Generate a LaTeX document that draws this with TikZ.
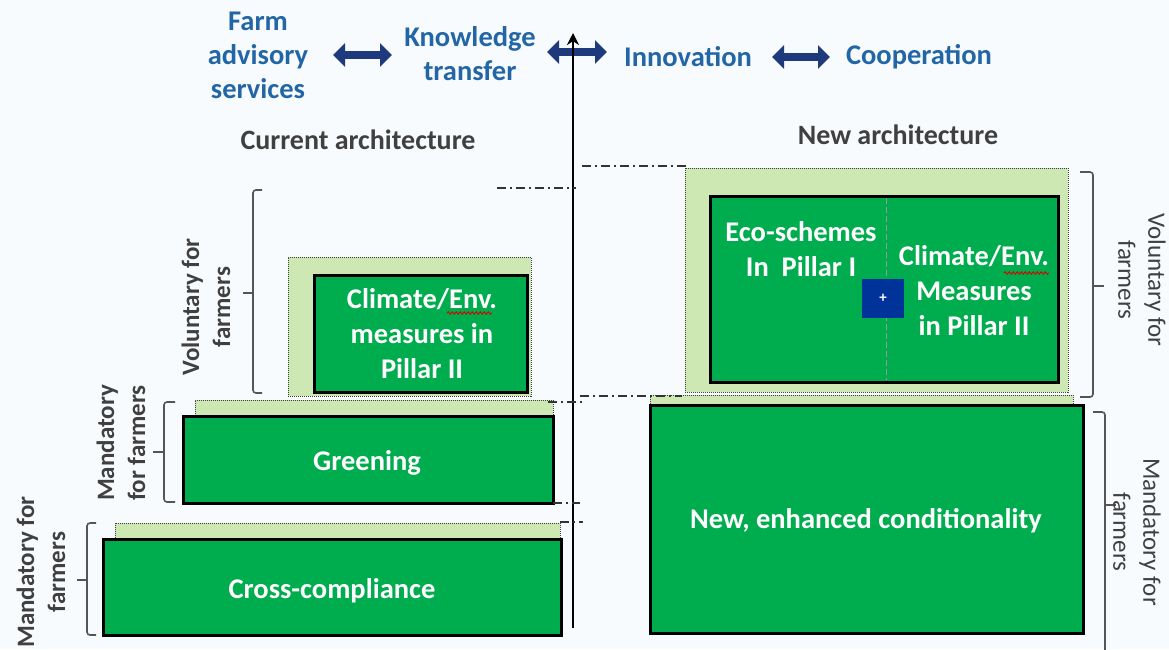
\documentclass[tikz,border=0pt]{standalone}
\usepackage{fontspec}
\setmainfont{Carlito}
\usetikzlibrary{arrows.meta,decorations.pathmorphing}
\definecolor{dkgreen}{HTML}{00AD4E}
\definecolor{ltgreen}{HTML}{CDE8B2}
\definecolor{lblblue}{HTML}{2366A6}
\definecolor{navyblue}{HTML}{1F3A7C}
\definecolor{plusblue}{HTML}{003399}
\definecolor{bggray}{HTML}{F8FBFD}
\definecolor{txtgray}{HTML}{404040}
\definecolor{bracegray}{HTML}{555555}
\begin{document}
\begin{tikzpicture}[x=1pt,y=-1pt,
  toplabel/.style={font=\fontsize{28.5}{34}\selectfont\bfseries, text=lblblue, align=center, inner sep=0},
  archlabel/.style={font=\fontsize{28}{30}\selectfont\bfseries, text=txtgray, inner sep=0},
  sidelabelb/.style={font=\fontsize{25}{31}\selectfont\bfseries, text=txtgray, align=center, inner sep=0},
  sidelabel/.style={font=\fontsize{25}{30}\selectfont, text=txtgray, align=center, inner sep=0},
  boxtext/.style={font=\fontsize{28.5}{35}\selectfont\bfseries, text=white, align=center, inner sep=0},
  lightbox/.style={fill=ltgreen, draw=black!75, densely dotted, line width=1pt, anchor=north west, inner sep=0, outer sep=0},
  darkbox/.style={fill=dkgreen, draw=black, line width=3pt, anchor=north west, inner sep=0, outer sep=0},
  bigarrow/.style={navyblue, line width=8pt, {Triangle[width=23pt,length=12pt]}-{Triangle[width=23pt,length=12pt]}},
  bracket/.style={draw=bracegray, line width=1.6pt, rounded corners=3pt},
  guide/.style={draw=black!80, line width=1.5pt, dash pattern=on 9pt off 4pt on 2pt off 4pt},
  spell/.style={draw=red!85!black, line width=0.9pt, decorate, decoration={snake, amplitude=1.2pt, segment length=4pt}}
]
\useasboundingbox (0,0) rectangle (1169,649);
\fill[bggray] (0,0) rectangle (1169,649);

% ---- top labels and arrows
\node[toplabel] (farm) at (258,55) {Farm\\advisory\\services};
\node[toplabel] (know) at (470,54) {Knowledge\\transfer};
\node[toplabel, anchor=base] (innov) at (688,66) {Innovation};
\node[toplabel, anchor=base] (coop) at (919,64) {Cooperation};
\coordinate (a1l) at (333,55); \coordinate (a1r) at (392,55);
\coordinate (a2l) at (547,52); \coordinate (a2r) at (607,52);
\coordinate (a3l) at (772,57); \coordinate (a3r) at (830,57);
\draw[bigarrow] (a1l) -- (a1r);
\draw[bigarrow] (a2l) -- (a2r);
\draw[bigarrow] (a3l) -- (a3r);

% ---- axis
\coordinate (axb) at (573,628);
\coordinate (axt) at (573,33);
\draw[line width=2.6pt, -{Stealth[length=12pt,width=12pt]}] (axb) -- (axt);

% ---- architecture titles
\node[archlabel, anchor=base] (cur) at (358,149) {Current architecture};
\node[archlabel, anchor=base] (new) at (898,144) {New architecture};

% ---- left: current architecture
\node[lightbox, minimum width=243pt, minimum height=139pt] (clLt) at (288,257) {};
\node[darkbox, minimum width=213pt, minimum height=117pt] (clDk) at (314,275) {};
\node[boxtext] (clTx) at (422,334) {Climate/Env.\\measures in\\Pillar II};
\draw[spell] (447,313) -- (492,313);

\node[lightbox, minimum width=358pt, minimum height=17pt] (grLt) at (195,400) {};
\node[darkbox, minimum width=370pt, minimum height=87pt] (grDk) at (183,416) {};
\node[boxtext, anchor=base] (grTx) at (367,470) {Greening};

\node[lightbox, minimum width=445pt, minimum height=18pt] (ccLt) at (115,523) {};
\node[darkbox, minimum width=458pt, minimum height=96pt] (ccDk) at (103,539) {};
\node[boxtext, anchor=base] (ccTx) at (332,598) {Cross-compliance};

% ---- right: new architecture
\node[lightbox, minimum width=383pt, minimum height=224pt] (nvLt) at (685,168) {};
\node[darkbox, minimum width=348pt, minimum height=186pt] (nvDk) at (710,196) {};
\draw[black!40, dash pattern=on 6pt off 3pt, line width=1pt] (886,198) -- (886,380);
\node[boxtext] (ecoTx) at (801,249) {Eco-schemes\\In\ \ Pillar I};
\node[boxtext] (cl2Tx) at (974,291) {Climate/Env.\\Measures\\in Pillar II};
\draw[spell] (1004,273) -- (1049,273);
\node[fill=plusblue, minimum width=42pt, minimum height=39pt, inner sep=0, text=white,
      font=\fontsize{15}{15}\selectfont\bfseries] (plus) at (883,298.5) {+};

\node[lightbox, minimum width=423pt, minimum height=10pt] (ncLt) at (650,395) {};
\node[darkbox, minimum width=433pt, minimum height=228pt] (ncDk) at (650,405) {};
\node[boxtext, anchor=base] (ncTx) at (866,528) {New, enhanced conditionality};

% ---- guide lines
\draw[guide] (497,188) -- (576,188);
\draw[guide] (582,166) -- (686,166);
\draw[guide] (580,396) -- (682,396);
\draw[guide] (548,402) -- (582,402);
\draw[guide] (553,503) -- (580,503);
\draw[guide] (560,522) -- (583,522);

% ---- brackets and side labels
\draw[bracket] (262,190) -- (253,190) -- (253,393) -- (262,393);
\draw[bracket] (253,293) -- (243,293);
\node[sidelabelb, rotate=90] (volL) at (206,307) {Voluntary for\\farmers};

\draw[bracket] (175,402) -- (164,402) -- (164,502) -- (175,502);
\draw[bracket] (164,452) -- (153,452);
\node[sidelabelb, rotate=90] (manG) at (121,443) {Mandatory\\for farmers};

\draw[bracket] (96,523) -- (87,523) -- (87,635) -- (96,635);
\draw[bracket] (87,580) -- (77,580);
\node[sidelabelb, rotate=90] (manC) at (41,572) {Mandatory for\\farmers};

\draw[bracket] (1080,172) -- (1093,172) -- (1093,397) -- (1080,397);
\draw[bracket] (1093,286) -- (1104,286);
\node[sidelabel, rotate=-90] (volR) at (1142,280) {Voluntary for\\farmers};

\draw[bracket] (1093,412) -- (1105,412) -- (1105,660);
\draw[bracket] (1105,505) -- (1116,505);
\node[sidelabel, rotate=-90] (manR) at (1137,532) {Mandatory for\\farmers};
\end{tikzpicture}
\end{document}
